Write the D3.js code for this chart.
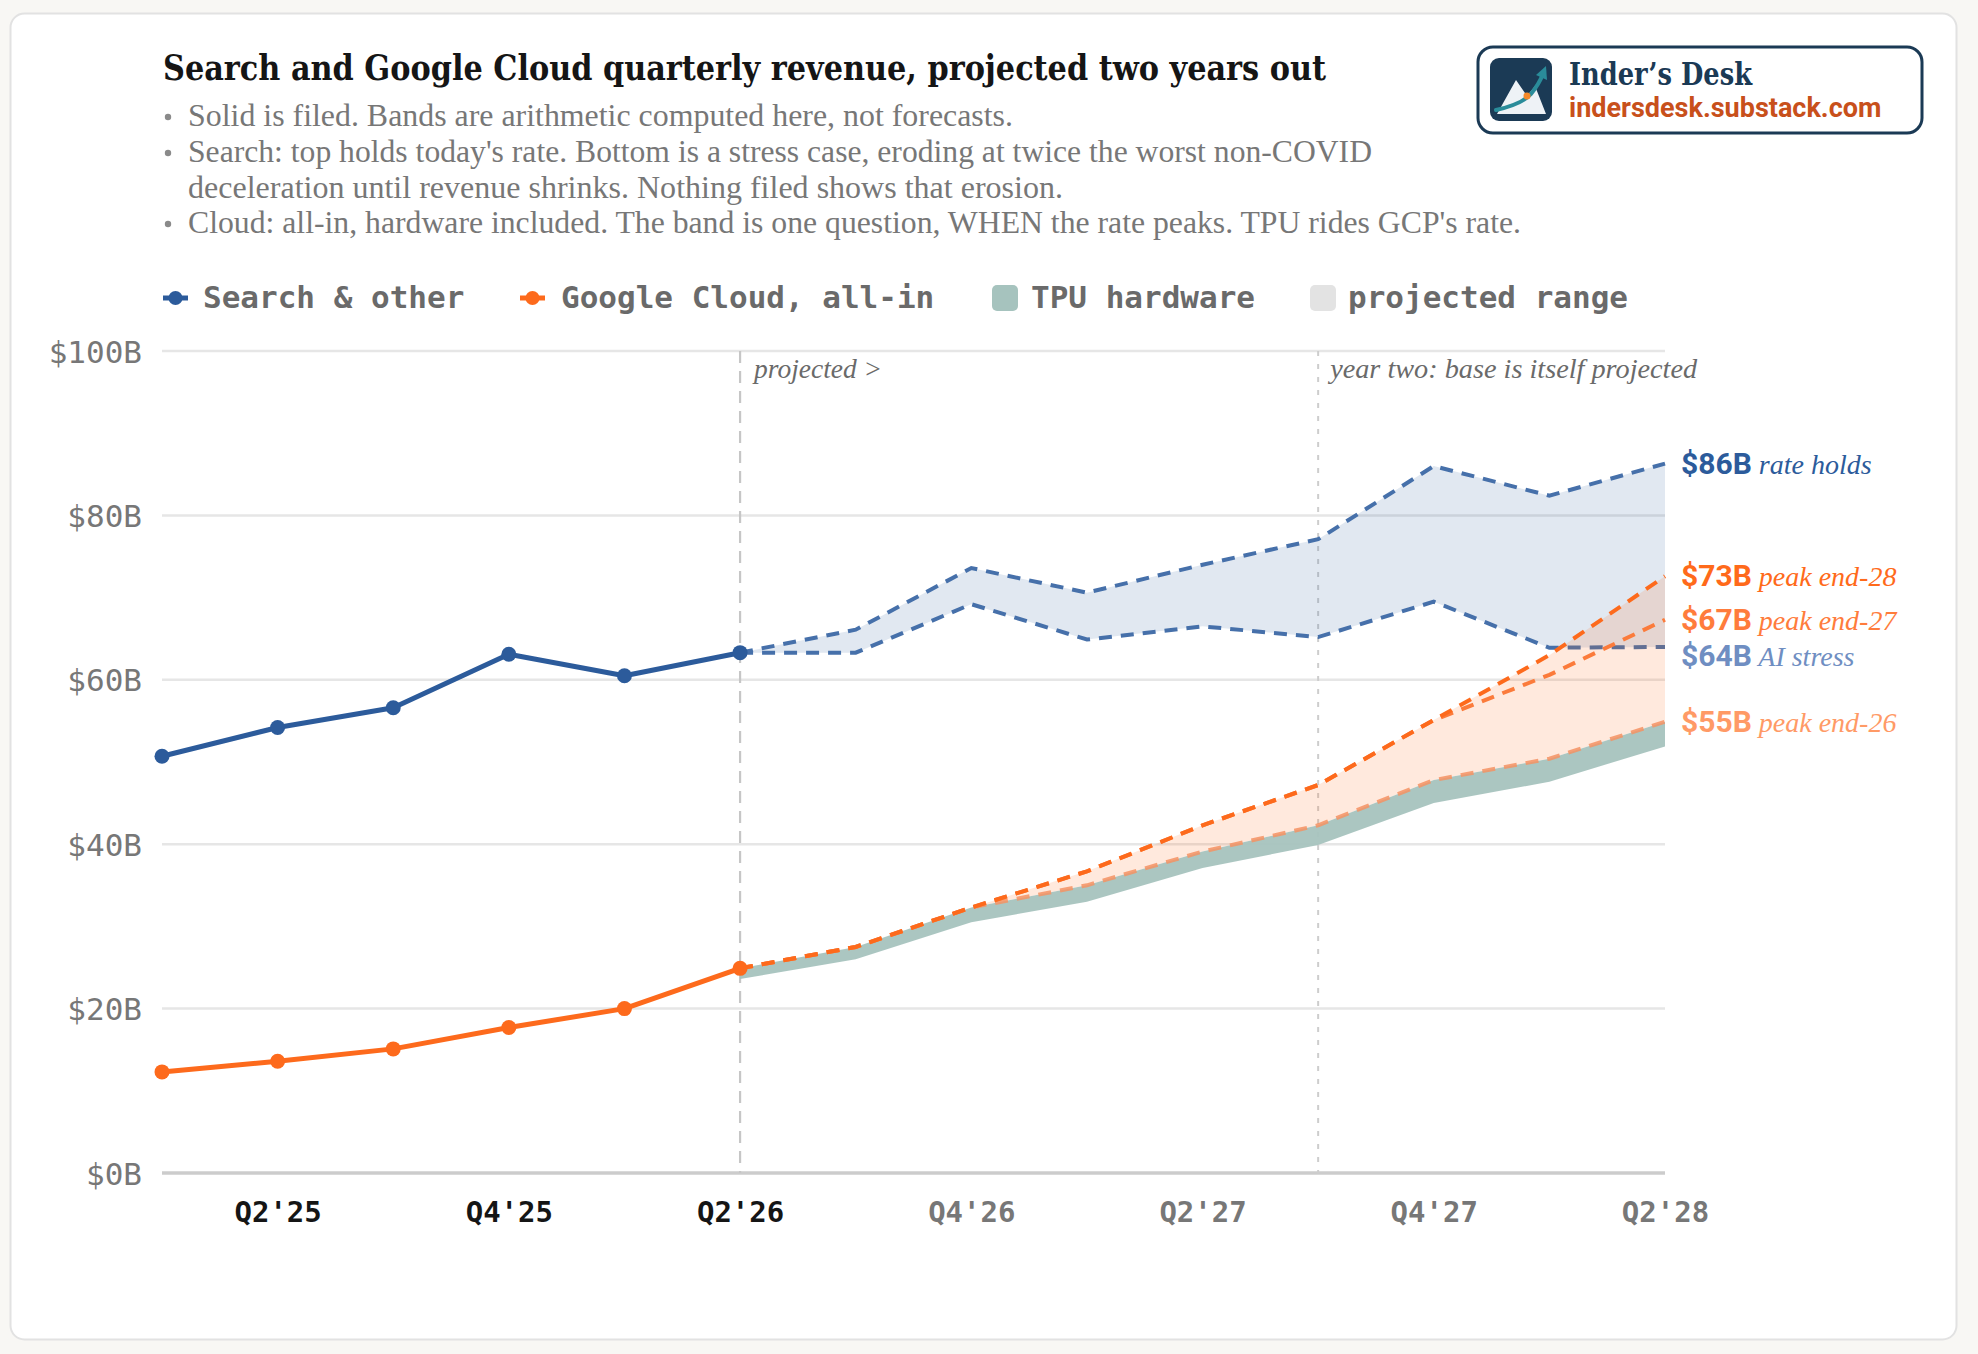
<!DOCTYPE html>
<html><head><meta charset="utf-8">
<script src="https://cdn.jsdelivr.net/npm/d3@7"></script>
<style>
html,body{margin:0;padding:0;background:#f8f7f4;}
svg{display:block;}
</style></head>
<body>
<svg id="chart" width="1978" height="1354"></svg>
<script>
// ---------- DATA ----------
const quarters = ["Q1'25","Q2'25","Q3'25","Q4'25","Q1'26","Q2'26","Q3'26","Q4'26","Q1'27","Q2'27","Q3'27","Q4'27","Q1'28","Q2'28"];
const filedQuarters = quarters.slice(0, 6);
const projQuarters = quarters.slice(5);
const xTickLabels = ["Q2'25","Q4'25","Q2'26","Q4'26","Q2'27","Q4'27","Q2'28"];
const filedTickLabels = ["Q2'25","Q4'25","Q2'26"];
const yTicks = [0, 20, 40, 60, 80, 100];

const searchActual = [50.7, 54.2, 56.6, 63.1, 60.5, 63.3];
const cloudActual  = [12.3, 13.6, 15.1, 17.7, 20.0, 24.9];

const searchRateHolds = [63.3, 66.1, 73.6, 70.6, 74.0, 77.1, 86.0, 82.4, 86.3];
const searchAIStress  = [63.3, 63.3, 69.2, 64.9, 66.5, 65.2, 69.5, 63.9, 64.0];
const cloudPeak28 = [24.9, 27.5, 32.3, 36.7, 42.3, 47.2, 55.1, 63.0, 72.6];
const cloudPeak27 = [24.9, 27.5, 32.3, 36.7, 42.3, 47.2, 55.1, 60.6, 67.3];
const cloudPeak26 = [24.9, 27.5, 32.3, 35.0, 39.1, 42.3, 47.8, 50.4, 54.9];
const tpuLower    = [23.6, 26.0, 30.5, 33.0, 37.1, 39.9, 45.0, 47.6, 51.9];

const legendLabels = ["Search & other", "Google Cloud, all-in", "TPU hardware", "projected range"];
const endNotes = ["rate holds", "peak end-28", "peak end-27", "AI stress", "peak end-26"];
const titleText = "Search and Google Cloud quarterly revenue, projected two years out";
const bullets = [
  ["Solid is filed. Bands are arithmetic computed here, not forecasts."],
  ["Search: top holds today's rate. Bottom is a stress case, eroding at twice the worst non-COVID", "deceleration until revenue shrinks. Nothing filed shows that erosion."],
  ["Cloud: all-in, hardware included. The band is one question, WHEN the rate peaks. TPU rides GCP's rate."]
];
const annotProjected = "projected >";
const annotYearTwo = "year two: base is itself projected";
const projStartQ = "Q2'26";
const yearTwoQ = "Q3'27";

// ---------- STYLE ----------
const C = {
  blue: "#2c5b9b", blueDash: "#4670aa", blueLbl: "#6f8ec2",
  orange: "#fd6a1c", orange27: "#fb7b3b", orange26: "#f59263",
  lbl73: "#ff6a1a", lbl67: "#ff7c3c", lbl55: "#ff9a66",
  tpu: "#a6c3be", grid: "#e6e6e6", axis: "#cccccc",
  text: "#777777", dark: "#151515", navy: "#1b3a55", brand: "#c8501b"
};
const serifBold = "'DejaVu Serif',serif";
const serif = "'Liberation Serif','Times New Roman',serif";
const mono = "'DejaVu Sans Mono',monospace";
const sans = "Roboto,'Open Sans',sans-serif";

const svg = d3.select("#chart");

// card
svg.append("rect").attr("x", 10.5).attr("y", 13.5).attr("width", 1946).attr("height", 1326)
  .attr("rx", 14).attr("fill", "#fff").attr("stroke", "#e2e2e2").attr("stroke-width", 2);

function squeeze(sel, target, always) {
  const w = sel.node().getComputedTextLength();
  if (always || w > target) sel.attr("textLength", target).attr("lengthAdjust", "spacingAndGlyphs");
  return sel;
}

// ---------- HEADER ----------
const title = svg.append("text").attr("x", 163).attr("y", 80).text(titleText)
  .attr("font-family", serifBold).attr("font-weight", 700)
  .attr("font-size", 36).attr("fill", C.dark);
squeeze(title, 1163);

const bulletBase = [126, 162, 233];
const bulletWidths = [[825], [1184, 875], [1333]];
bullets.forEach((b, i) => {
  svg.append("circle").attr("cx", 168).attr("cy", bulletBase[i] - 9).attr("r", 3.2).attr("fill", "#8a8a8a");
  b.forEach((ln, j) => {
    const t = svg.append("text").attr("x", 188).attr("y", bulletBase[i] + j * 35.5).text(ln)
      .attr("font-family", serif).attr("font-size", 31).attr("fill", C.text);
    squeeze(t, bulletWidths[i][j], true);
  });
});

// logo
const logo = svg.append("g");
logo.append("rect").attr("x", 1478).attr("y", 47).attr("width", 444).attr("height", 86).attr("rx", 15)
  .attr("fill", "#fff").attr("stroke", C.navy).attr("stroke-width", 3);
logo.append("rect").attr("x", 1490).attr("y", 58).attr("width", 62).attr("height", 63).attr("rx", 9).attr("fill", C.navy);
logo.append("path").attr("d", "M1497,114 L1516,80 L1527,96 L1535,86 L1546,114 Z").attr("fill", "#eef2f6");
logo.append("path").attr("d", "M1496,110 Q1522,104 1531,94 Q1539,84 1543,74").attr("fill", "none")
  .attr("stroke", "#2a8c9a").attr("stroke-width", 4).attr("stroke-linecap", "round");
logo.append("path").attr("d", "M1536,75 L1546,66 L1547,80 Z").attr("fill", "#2a8c9a");
logo.append("circle").attr("cx", 1527).attr("cy", 96).attr("r", 3.5).attr("fill", "#f5892a");
const ln1 = logo.append("text").attr("x", 1569).attr("y", 85).text("Inder\u2019s Desk")
  .attr("font-family", serifBold).attr("font-weight", 700)
  .attr("font-size", 31).attr("fill", C.navy);
squeeze(ln1, 183);
const ln2 = logo.append("text").attr("x", 1569).attr("y", 117).text("indersdesk.substack.com")
  .attr("font-family", sans).attr("font-weight", 700).attr("font-size", 27).attr("fill", C.brand);
squeeze(ln2, 320);

// ---------- LEGEND ----------
const lg = svg.append("g").attr("font-family", mono).attr("font-weight", 700).attr("font-size", 31).attr("fill", "#6a6a6a");
const legendX = [163, 520, 992, 1310];
const legendTextX = [203, 561, 1031, 1348];
[C.blue, C.orange].forEach((c, i) => {
  lg.append("line").attr("x1", legendX[i]).attr("x2", legendX[i] + 25).attr("y1", 298).attr("y2", 298)
    .attr("stroke", c).attr("stroke-width", 5);
  lg.append("circle").attr("cx", legendX[i] + 12.5).attr("cy", 298).attr("r", 7).attr("fill", c);
});
[C.tpu, "#e3e3e3"].forEach((c, i) => {
  lg.append("rect").attr("x", legendX[i + 2]).attr("y", 285).attr("width", 26).attr("height", 26)
    .attr("rx", 5).attr("fill", c);
});
legendLabels.forEach((t, i) => lg.append("text").attr("x", legendTextX[i]).attr("y", 308).text(t));

// ---------- SCALES ----------
const x = d3.scalePoint().domain(quarters).range([162, 1665]);
const y = d3.scaleLinear().domain([0, 100]).range([1173, 351]);

// grid
const grid = svg.append("g");
grid.selectAll("line").data(yTicks.filter(d => d > 0)).join("line")
  .attr("x1", 162).attr("x2", 1665).attr("y1", d => y(d)).attr("y2", d => y(d))
  .attr("stroke", C.grid).attr("stroke-width", 2.5);

// y axis
const yAxis = svg.append("g").attr("transform", "translate(162,0)")
  .call(d3.axisLeft(y).tickValues(yTicks).tickSize(0).tickPadding(20).tickFormat(d => "$" + d + "B"));
yAxis.select(".domain").remove();
yAxis.selectAll("text").attr("font-family", mono).attr("font-size", 31).attr("fill", C.text).attr("dy", "0.36em");

// x axis
const xAxis = svg.append("g").attr("transform", "translate(0," + y(0) + ")")
  .call(d3.axisBottom(x).tickValues(xTickLabels).tickSize(0).tickPadding(0));
xAxis.select(".domain").remove();
xAxis.selectAll("text").attr("font-family", mono).attr("font-weight", 700).attr("font-size", 29)
  .attr("y", 49).attr("dy", 0)
  .attr("fill", d => filedTickLabels.includes(d) ? C.dark : C.text);
svg.append("line").attr("x1", 162).attr("x2", 1665).attr("y1", y(0)).attr("y2", y(0))
  .attr("stroke", C.axis).attr("stroke-width", 3.5);

// vertical markers
svg.append("line").attr("x1", x(projStartQ)).attr("x2", x(projStartQ)).attr("y1", y(100)).attr("y2", y(0))
  .attr("stroke", "#c6c6c6").attr("stroke-width", 2.2).attr("stroke-dasharray", "12,8");
svg.append("line").attr("x1", x(yearTwoQ)).attr("x2", x(yearTwoQ)).attr("y1", y(100)).attr("y2", y(0))
  .attr("stroke", "#cdcdcd").attr("stroke-width", 2).attr("stroke-dasharray", "5,8");
const a1 = svg.append("text").attr("x", x(projStartQ) + 14).attr("y", 378).text(annotProjected)
  .attr("font-family", serif).attr("font-style", "italic").attr("font-size", 28).attr("fill", "#6a6a6a");
squeeze(a1, 128, true);
const a2 = svg.append("text").attr("x", x(yearTwoQ) + 12).attr("y", 378).text(annotYearTwo)
  .attr("font-family", serif).attr("font-style", "italic").attr("font-size", 28).attr("fill", "#6a6a6a");
squeeze(a2, 367, true);

// ---------- BANDS & LINES ----------
const line = d3.line().x(d => x(d.q)).y(d => y(d.v));
const area = d3.area().x(d => x(d.q)).y0(d => y(d.lo)).y1(d => y(d.hi));
const P = (arr) => arr.map((v, i) => ({ q: projQuarters[i], v }));
const B = (lo, hi) => lo.map((v, i) => ({ q: projQuarters[i], lo: v, hi: hi[i] }));

// blue band + blue dashed lines
svg.append("path").datum(B(searchAIStress, searchRateHolds)).attr("d", area)
  .attr("fill", C.blue).attr("fill-opacity", 0.14);
[searchRateHolds, searchAIStress].forEach(s => {
  svg.append("path").datum(P(s)).attr("d", line).attr("fill", "none")
    .attr("stroke", C.blueDash).attr("stroke-width", 4).attr("stroke-dasharray", "13,9");
});

// orange band
svg.append("path").datum(B(cloudPeak26, cloudPeak28)).attr("d", area)
  .attr("fill", C.orange).attr("fill-opacity", 0.15);
// TPU band
svg.append("path").datum(B(tpuLower, cloudPeak26)).attr("d", area)
  .attr("fill", C.tpu).attr("fill-opacity", 0.95);

// orange dashed lines
[[cloudPeak26, C.orange26, 0.85], [cloudPeak27, C.orange27, 1], [cloudPeak28, C.orange, 1]].forEach(([s, c, o]) => {
  svg.append("path").datum(P(s)).attr("d", line).attr("fill", "none")
    .attr("stroke", c).attr("stroke-opacity", o).attr("stroke-width", 4).attr("stroke-dasharray", "13,9");
});

// solid actual lines
[[searchActual, C.blue], [cloudActual, C.orange]].forEach(([s, c]) => {
  const d = s.map((v, i) => ({ q: filedQuarters[i], v }));
  svg.append("path").datum(d).attr("d", line).attr("fill", "none").attr("stroke", c)
    .attr("stroke-width", 5).attr("stroke-linejoin", "round");
  svg.append("g").selectAll("circle").data(d).join("circle")
    .attr("cx", p => x(p.q)).attr("cy", p => y(p.v)).attr("r", 7.5).attr("fill", c);
});

// ---------- END LABELS ----------
const ends = [
  { v: searchRateHolds.at(-1), c: C.blue },
  { v: cloudPeak28.at(-1), c: C.lbl73 },
  { v: cloudPeak27.at(-1), c: C.lbl67 },
  { v: searchAIStress.at(-1), c: C.blueLbl },
  { v: cloudPeak26.at(-1), c: C.lbl55 }
].map((d, i) => ({ ...d, note: endNotes[i], cy: y(d.v) }));
ends.sort((a, b) => a.cy - b.cy);
for (let i = 1; i < ends.length; i++) {
  if (ends[i].cy - ends[i - 1].cy < 36) ends[i].cy = ends[i - 1].cy + 36;
}
ends.forEach(d => {
  const t = svg.append("text").attr("x", 1681).attr("y", d.cy + 10).attr("fill", d.c);
  t.append("tspan").text("$" + Math.round(d.v) + "B").attr("font-family", sans).attr("font-weight", 700).attr("font-size", 30);
  t.append("tspan").text(" " + d.note).attr("font-family", serif).attr("font-style", "italic").attr("font-size", 28);
});
</script>
</body></html>
